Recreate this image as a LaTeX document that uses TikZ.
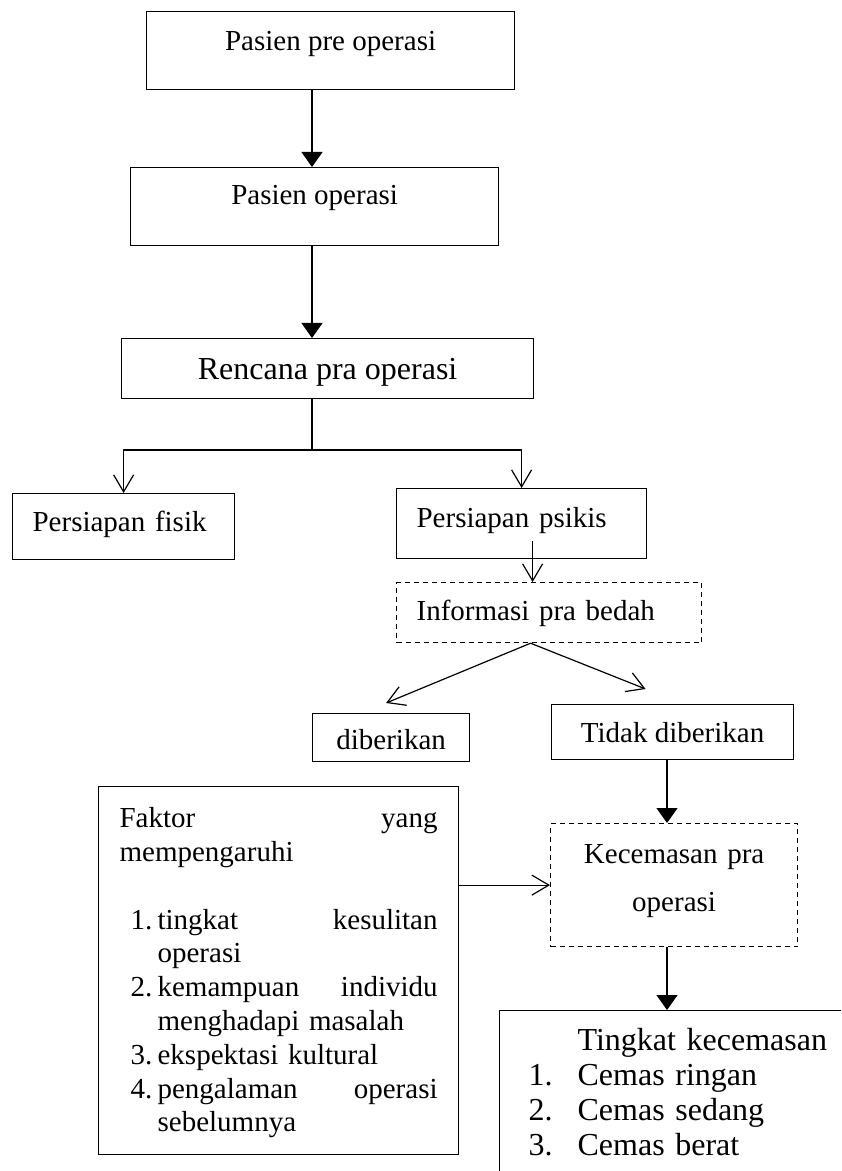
\documentclass[tikz,border=0pt]{standalone}
\usepackage{fontspec}
\setmainfont{Liberation Serif}
\usetikzlibrary{arrows.meta,calc}
\newcommand{\fitem}[2]{\par\hangindent=19pt\hangafter=1\noindent\makebox[19pt][l]{\hspace{5.5pt}#1}#2\par}

\begin{document}
\begin{tikzpicture}[x=0.5pt, y=-0.5pt,
		flowbox/.style={draw, line width=0.6pt, inner xsep=0pt, inner ysep=0pt, anchor=north west, font={\fontsize{14.5}{16.9}\selectfont}},
		dashbox/.style={flowbox, dash pattern=on 2.5pt off 2pt},
		openarrow/.style={line width=0.6pt, -{Straight Barb[length=8.5pt,width=10pt]}},
		solidarrow/.style={line width=0.6pt, -{Triangle[length=7.5pt,width=10.5pt]}}]
			%%%%% START %%%%%
			
			\useasboundingbox (0,0) rectangle (841,1171);
			\clip (0,0) rectangle (841,1171);
			
			\node[flowbox, minimum width=184pt, text height=19.5pt, text depth=19.5pt] (pre) at (146,11) {Pasien pre operasi};
			\node[flowbox, minimum width=184pt, text height=18.5pt, text depth=20.5pt] (pasien) at (130,167) {Pasien operasi};
			\node[flowbox, minimum width=206pt, text height=20.5pt, text depth=9.5pt, font={\fontsize{16}{18}\selectfont}] (rencana) at (121,338) {Rencana pra operasi};
			
			\node[flowbox, inner xsep=10pt, text width=91pt, align=left, text height=19pt, text depth=14pt] (fisik) at (12,493) {Persiapan fisik};
			\node[flowbox, inner xsep=10pt, text width=105pt, align=left, text height=19.5pt, text depth=15.5pt] (psikis) at (396,488) {Persiapan psikis};
			\node[dashbox, inner xsep=10pt, text width=132.5pt, align=left, text height=19pt, text depth=11pt] (info) at (396,582) {Informasi pra bedah};
			
			\node[flowbox, minimum width=78.5pt, text height=18pt, text depth=6pt] (diberi) at (312,713) {diberikan};
			\node[flowbox, minimum width=121pt, text height=19pt, text depth=8.5pt] (tidak) at (551,704) {Tidak diberikan};
			
			\node[dashbox, text width=123.5pt, align=center, text height=20pt, text depth=41.5pt, font={\fontsize{14.5}{24}\selectfont}] (cemas) at (550,823) {Kecemasan pra\\operasi};
			
			\node[flowbox, inner xsep=10.5pt, text width=159pt, text height=20.5pt, text depth=163.5pt] (faktor) at (98,786) {Faktor\hfill yang\newline mempengaruhi\par\vspace{16.9pt}%
				\fitem{1.}{tingkat\hfill kesulitan\newline operasi}%
				\fitem{2.}{kemampuan\hfill individu\newline menghadapi masalah}%
				\fitem{3.}{ekspektasi kultural}%
				\fitem{4.}{pengalaman\hfill operasi\newline sebelumnya}};
			
			\node[flowbox, inner xsep=14.5pt, text width=150pt, text height=20pt, text depth=90pt, font={\fontsize{16}{17.5}\selectfont}] (tingkat) at (499,1010) {\hspace*{24.5pt}Tingkat kecemasan\par
				\makebox[24.5pt][l]{1.}Cemas ringan\par
				\makebox[24.5pt][l]{2.}Cemas sedang\par
				\makebox[24.5pt][l]{3.}Cemas berat};
			
			%%%%% ARROWS %%%%%
			
			\coordinate (mid) at (312,0);
			\coordinate (rcol) at (667,0);
			\coordinate (split) at (312,450);
			\coordinate (pin) at ($(psikis.south)+(11,-18)$);
			\coordinate (fork) at ($(info.south)+(-18.5,0)$);
			
			\draw[solidarrow] (pre.south -| mid) -- (pasien.north -| mid);
			\draw[solidarrow] (pasien.south -| mid) -- (rencana.north -| mid);
			\draw[line width=0.6pt] (rencana.south -| mid) -- (split);
			\draw[openarrow] (split) -| (fisik.north);
			\draw[openarrow] (split) -| (psikis.north);
			\draw[openarrow] (pin) -- (pin |- info.north);
			\draw[openarrow] (fork) -- ($(diberi.north)+(-5,-10)$);
			\draw[openarrow] (fork) -- ($(tidak.north)+(-27,-15)$);
			\draw[solidarrow] (tidak.south -| rcol) -- (cemas.north -| rcol);
			\draw[openarrow] (cemas.west -| faktor.east) -- (cemas.west);
			\draw[solidarrow] (cemas.south -| rcol) -- (tingkat.north -| rcol);
			
			%%%%% END %%%%%
\end{tikzpicture}
\end{document}
